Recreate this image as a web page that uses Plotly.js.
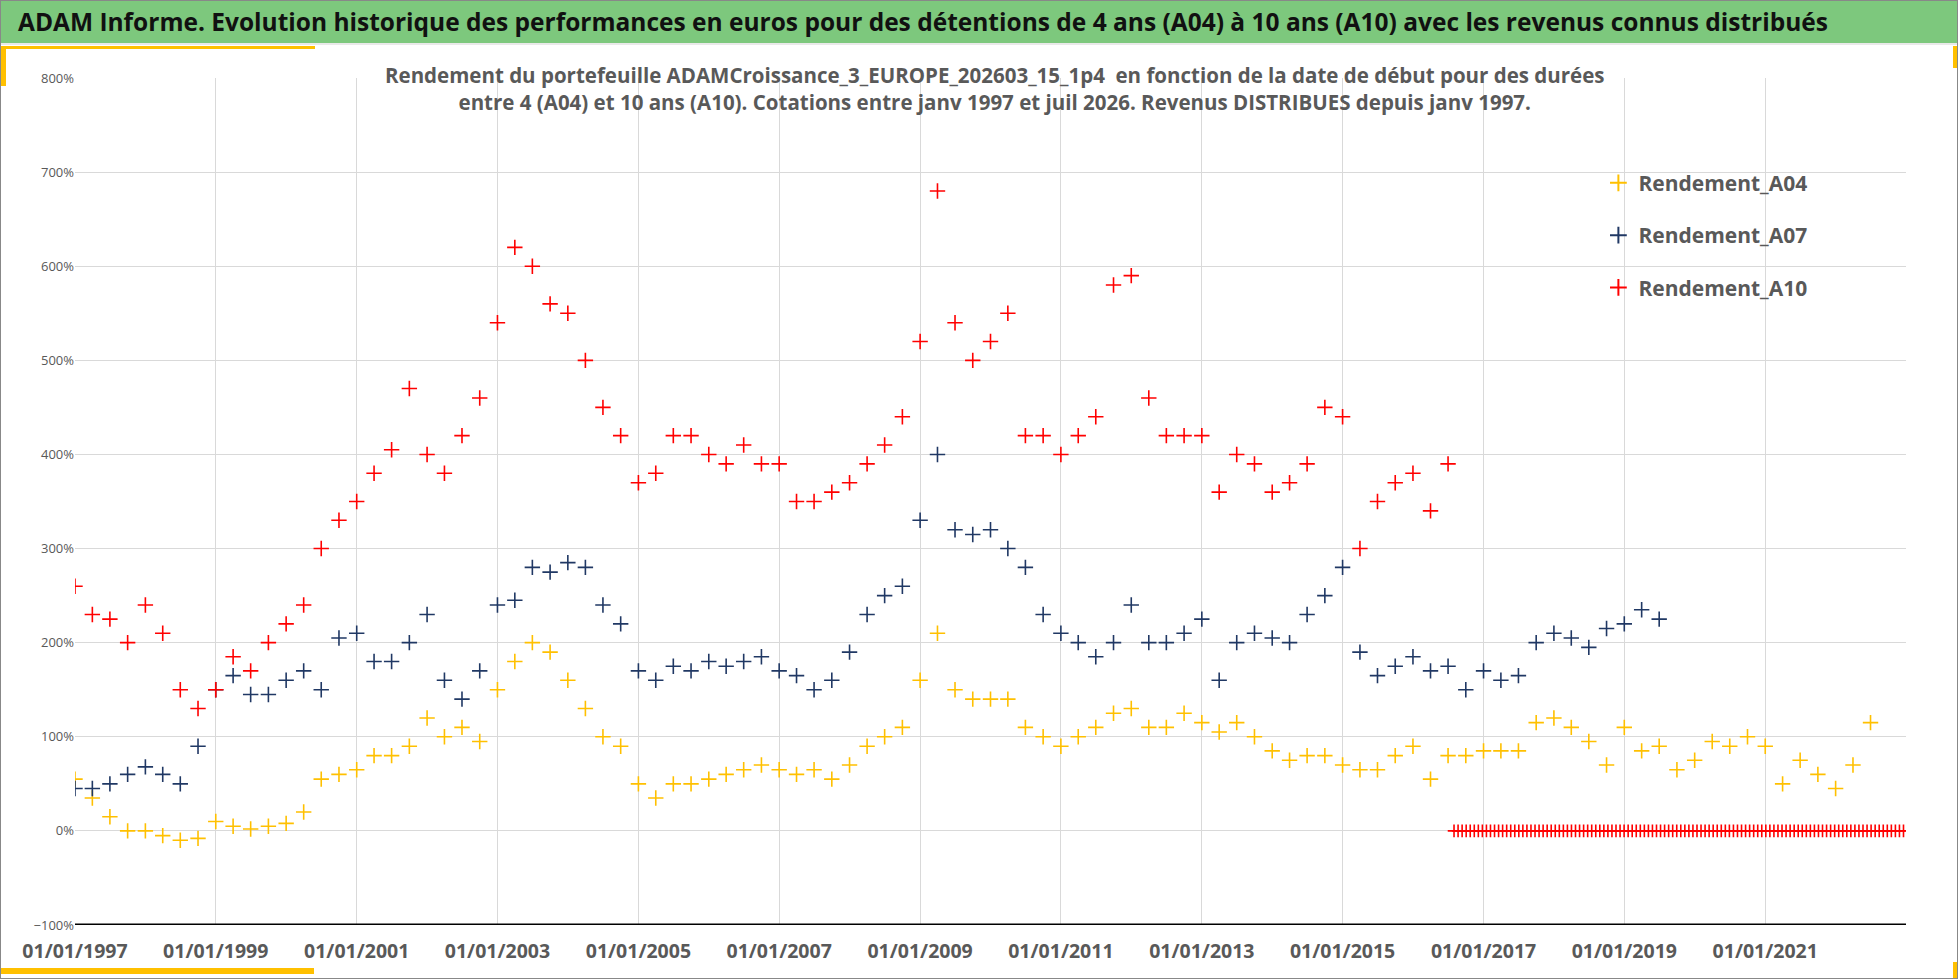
<!DOCTYPE html>
<html><head><meta charset="utf-8">
<script src="https://cdn.plot.ly/plotly-3.0.1.min.js"></script>
<style>
body{margin:0;background:#fff;font-family:"Open Sans",sans-serif}
#wrap{position:relative;width:1958px;height:979px;overflow:hidden}
#head{position:absolute;left:0;top:0;width:1958px;height:45px;background:#7dc87d;border-bottom:2px solid #e9e9e9;
 font:bold 24.5px "Open Sans",sans-serif;color:#111;line-height:44px;padding-left:18px;box-sizing:border-box;z-index:2;white-space:nowrap}
.y{position:absolute;background:#ffc000;z-index:3}
#frame{position:absolute;left:0;top:0;width:1956px;height:977px;border:1px solid #888;z-index:4;pointer-events:none}
#chart{position:absolute;left:0;top:0}
</style></head>
<body><div id="wrap">
<div id="chart"></div>
<div id="head">ADAM Informe. Evolution historique des performances en euros pour des détentions de 4 ans (A04) à 10 ans (A10) avec les revenus connus distribués</div>
<div class="y" style="left:0;top:46px;width:315px;height:3px"></div>
<div class="y" style="left:0;top:46px;width:6px;height:40px"></div>
<div class="y" style="left:0;top:968px;width:314px;height:6px"></div>
<div class="y" style="left:1953px;top:46px;width:4px;height:22px"></div>
<div class="y" style="left:1953px;top:962px;width:4px;height:16px"></div>
<div id="frame"></div>
</div>
<script>
// valeurs trimestrielles (en %)
const startA04 = 1997.0;
const a04 = [55,35,15,0, 0,-5,-10,-8, 10,5,2,5, 8,20,55,60, 65,80,80,90, 120,100,110,95,
  150,180,200,190, 160,130,100,90, 50,35,50,50, 55,60,65,70, 65,60,65,55, 70,90,100,110,
  160,210,150,140, 140,140,110,100, 90,100,110,125, 130,110,110,125, 115,105,115,100,
  85,75,80,80, 70,65,65,80, 90,55,80,80, 85,85,85,115, 120,110,95,70, 110,85,90,65,
  75,95,90,100, 90,50,75,60, 45,70,115];
const startA07 = 1997.0;
const a07 = [45,45,50,60, 68,60,50,90, 150,165,145,145, 160,170,150,205, 210,180,180,200,
  230,160,140,170, 240,245,280,275, 285,280,240,220, 170,160,175,170, 180,175,180,185,
  170,165,150,160, 190,230,250,260, 330,400,320,315, 320,300,280,230, 210,200,185,200,
  240,200,200,210, 225,160,200,210, 205,200,230,250, 280,190,165,175, 185,170,175,150,
  170,160,165,200, 210,205,195,215, 220,235,225];
const startA10 = 1997.0;
const a10 = [260,230,225,200, 240,210,150,130, 150,185,170,200, 220,240,300,330,
  350,380,405,470, 400,380,420,460, 540,620,600,560, 550,500,450,420, 370,380,420,420,
  400,390,410,390, 390,350,350,360, 370,390,410,440, 520,680,540,500, 520,550,420,420,
  400,420,440,580, 590,460,420,420, 420,360,400,390, 360,370,390,450, 440,300,350,370,
  380,340,390];
// A10 à 0 % : cotations du 01/08/2016 au 31/12/2022
const zeroStart = '2016-08-01', zeroEnd = '2022-12-31';
const tickYears = [1997,1999,2001,2003,2005,2007,2009,2011,2013,2015,2017,2019,2021];

const qDate = (y0, i) => {
  const t = y0 + i * 0.25, y = Math.floor(t + 1e-9);
  const m = Math.round((t - y) * 12) + 1;
  return y + '-' + String(m).padStart(2, '0') + '-01';
};
const dates = (y0, arr) => arr.map((_, i) => qDate(y0, i));

const zx = [];
for (let d = new Date(zeroStart); d <= new Date(zeroEnd); d.setDate(d.getDate() + 21))
  zx.push(d.toISOString().slice(0, 10));
const zy = zx.map(() => 0);

const mk = (c, s) => ({symbol: 'cross-thin-open', size: s || 11, color: c, line: {color: c, width: 1.6}});
const YEL = '#ffc000', NAV = '#203864', RED = '#ff0000';
const data = [
  {x: dates(startA04, a04), y: a04, mode: 'markers', type: 'scatter', name: 'Rendement_A04', legendgroup: 'a', marker: mk(YEL)},
  {x: dates(startA07, a07), y: a07, mode: 'markers', type: 'scatter', name: 'Rendement_A07', legendgroup: 'b', marker: mk(NAV)},
  {x: dates(startA10, a10), y: a10, mode: 'markers', type: 'scatter', name: 'Rendement_A10', legendgroup: 'c', marker: mk(RED)},
  {x: zx, y: zy, mode: 'markers', type: 'scatter', name: 'Rendement_A10', legendgroup: 'c', showlegend: false, marker: mk(RED, 9)}
];

const layout = {
  width: 1958, height: 979,
  margin: {l: 75, r: 52, t: 78, b: 54},
  paper_bgcolor: '#fff', plot_bgcolor: '#fff',
  font: {family: '"Open Sans", sans-serif', color: '#595959'},
  showlegend: true,
  legend: {x: 0.832, y: 0.9, xanchor: 'left', yanchor: 'top', bgcolor: 'rgba(0,0,0,0)',
    font: {size: 21, color: '#595959', family: '"Open Sans", sans-serif', weight: 'bold'},
    traceorder: 'grouped', tracegroupgap: 22, itemsizing: 'constant'},
  xaxis: {type: 'date', range: ['1997-01-01', '2023-01-01'],
    tickvals: tickYears.map(y => y + '-01-01'), ticktext: tickYears.map(y => '01/01/' + y),
    tickfont: {size: 19.5, color: '#595959', weight: 'bold'},
    showgrid: true, gridcolor: '#d9d9d9', gridwidth: 1, zeroline: false,
    showline: false, ticks: '', ticklabelstandoff: 12},
  yaxis: {range: [-100, 800], dtick: 100, ticksuffix: '%',
    tickfont: {size: 13, color: '#595959'},
    showgrid: true, gridcolor: '#d9d9d9', zeroline: false, showline: false, ticks: ''},
  shapes: [{type: 'line', xref: 'paper', yref: 'y', x0: 0, x1: 1, y0: -100, y1: -100,
    line: {color: '#000', width: 3}}],
  annotations: [{xref: 'paper', yref: 'paper', x: 0.502, y: 1.0, yanchor: 'bottom', xanchor: 'center',
    yshift: -40, showarrow: false, align: 'center',
    font: {size: 20.5, color: '#595959', weight: 'bold'},
    text: 'Rendement du portefeuille ADAMCroissance_3_EUROPE_202603_15_1p4  en fonction de la date de début pour des durées<br>entre 4 (A04) et 10 ans (A10). Cotations entre janv 1997 et juil 2026. Revenus DISTRIBUES depuis janv 1997.'}]
};
Plotly.newPlot('chart', data, layout, {displayModeBar: false, staticPlot: true});
</script>
</body></html>
